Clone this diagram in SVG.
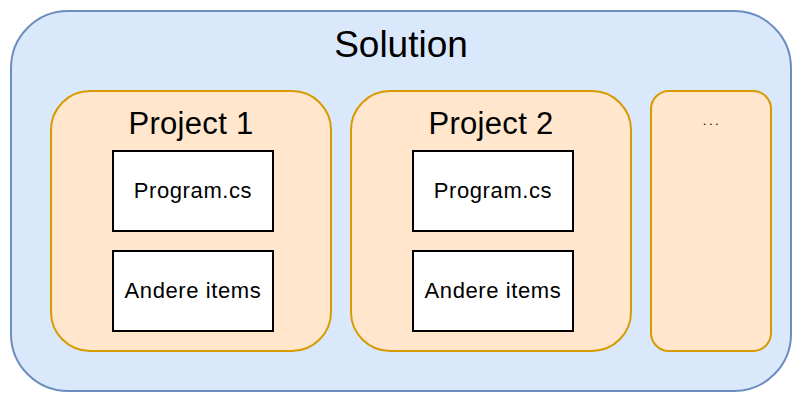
<svg xmlns="http://www.w3.org/2000/svg" width="802" height="402" viewBox="0 0 802 402">
<style>
.sol{fill:#dae8fc;stroke:#6c8ebf;stroke-width:2}
.proj{fill:#ffe6cc;stroke:#d79b00;stroke-width:2}
.item{fill:#ffffff;stroke:#000000;stroke-width:2}
text{font-family:"Liberation Sans",Arial,Helvetica,sans-serif;fill:#000;text-anchor:middle}
.t36{font-size:37px}.t28{font-size:31px;letter-spacing:0.3px}.t20{font-size:22px;letter-spacing:0.6px}.t12{font-size:13px;letter-spacing:2.5px}
</style>
<g id="solution"><rect class="sol" x="11" y="11" width="780" height="380" rx="57" ry="57"/><text class="t36" x="401" y="57">Solution</text></g>
<g id="project1"><rect class="proj" x="51" y="91" width="280" height="260" rx="39" ry="39"/><text class="t28" x="191" y="134">Project 1</text></g>
<g id="project2"><rect class="proj" x="351" y="91" width="280" height="260" rx="39" ry="39"/><text class="t28" x="491" y="134">Project 2</text></g>
<g id="more"><rect class="proj" x="651" y="91" width="120" height="260" rx="18" ry="18"/><text class="t12" x="712" y="125">...</text></g>
<g id="p1program"><rect class="item" x="113" y="151" width="160" height="80"/><text class="t20" x="193" y="198">Program.cs</text></g>
<g id="p1andere"><rect class="item" x="113" y="251" width="160" height="80"/><text class="t20" x="193" y="298">Andere items</text></g>
<g id="p2program"><rect class="item" x="413" y="151" width="160" height="80"/><text class="t20" x="493" y="198">Program.cs</text></g>
<g id="p2andere"><rect class="item" x="413" y="251" width="160" height="80"/><text class="t20" x="493" y="298">Andere items</text></g>
<g id="connectors"/>
</svg>
